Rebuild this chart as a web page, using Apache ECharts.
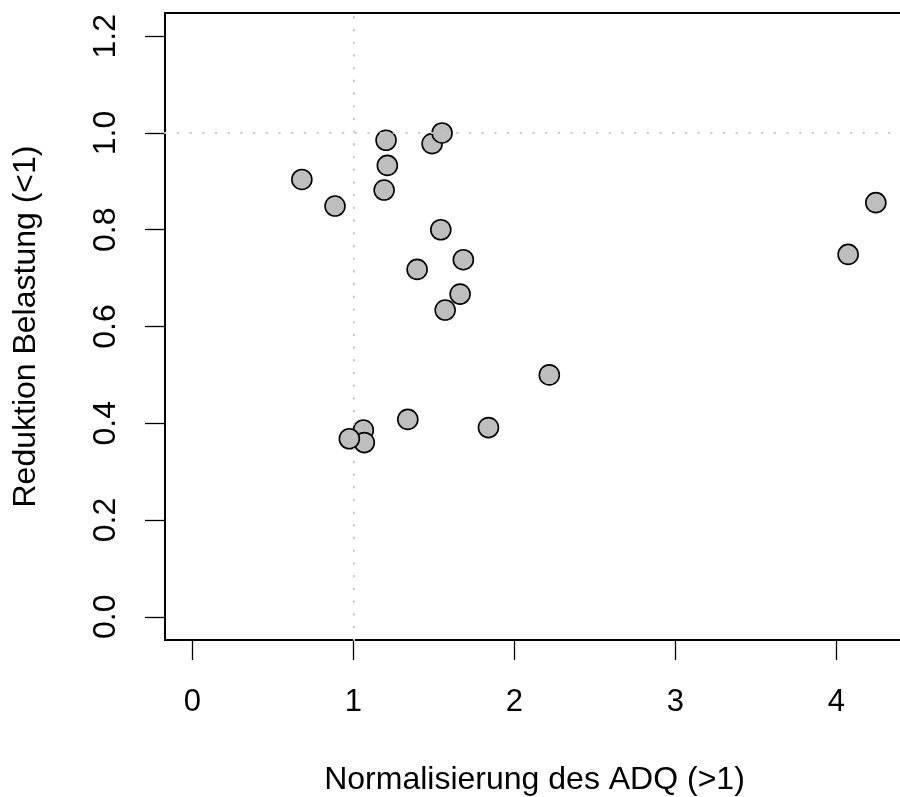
<!DOCTYPE html>
<html>
<head>
<meta charset="utf-8">
<script src="https://cdn.jsdelivr.net/npm/echarts@6/dist/echarts.min.js"></script>
<style>
  html, body { margin: 0; padding: 0; background: #fff; }
  #chart { width: 900px; height: 797px; }
</style>
</head>
<body>
<div id="chart"></div>
<script>
// normalisation of ADQ (x) vs. reduction of load (y)
var adq = [0.68, 0.886, 1.203, 1.211, 1.191, 1.489, 1.551, 1.543, 1.683, 1.396,
           1.663, 1.570, 2.217, 1.338, 1.839, 1.062, 1.068, 0.975, 4.073, 4.245];
var belastung = [0.904, 0.849, 0.985, 0.933, 0.882, 0.978, 1.000, 0.800, 0.738, 0.718,
                 0.667, 0.634, 0.500, 0.408, 0.391, 0.386, 0.360, 0.368, 0.749, 0.856];
var xTicks = [0, 1, 2, 3, 4];
var yTicks = [0, 0.2, 0.4, 0.6, 0.8, 1.0, 1.2];
var refX = 1;
var refY = 1;

var points = adq.map(function (x, i) { return [x, belastung[i]]; });

var myChart = echarts.init(document.getElementById('chart'), null, { renderer: 'canvas' });

var font = 'Liberation Sans, Arial, Helvetica, sans-serif';

var option = {
  animation: false,
  backgroundColor: '#fff',
  grid: {
    left: 165,
    top: 13,
    width: 739,
    height: 627,
    outerBoundsMode: 'none',
    containLabel: false,
    show: true,
    borderColor: '#000',
    borderWidth: 2,
    backgroundColor: '#fff'
  },
  xAxis: {
    type: 'value',
    min: -0.17,
    max: 4.42,
    name: 'Normalisierung des ADQ (>1)',
    nameLocation: 'middle',
    nameGap: 124,
    nameTextStyle: { color: '#000', fontSize: 32, fontFamily: font },
    axisLine: { show: false, onZero: false },
    splitLine: { show: false },
    axisTick: {
      show: true,
      inside: false,
      length: 20,
      customValues: xTicks,
      lineStyle: { color: '#000', width: 1.3 }
    },
    axisLabel: {
      margin: 47,
      color: '#000',
      fontSize: 31,
      fontFamily: font,
      customValues: xTicks,
      formatter: function (v) { return String(Math.round(v)); }
    }
  },
  yAxis: {
    type: 'value',
    min: -0.048,
    max: 1.248,
    name: 'Reduktion Belastung (<1)',
    nameLocation: 'middle',
    nameGap: 123,
    nameTextStyle: { color: '#000', fontSize: 32, fontFamily: font },
    axisLine: { show: false, onZero: false },
    splitLine: { show: false },
    axisTick: {
      show: true,
      inside: false,
      length: 20,
      customValues: yTicks,
      lineStyle: { color: '#000', width: 1.3 }
    },
    axisLabel: {
      rotate: 90,
      margin: 43,
      color: '#000',
      fontSize: 32,
      fontFamily: font,
      customValues: yTicks,
      formatter: function (v) { return v.toFixed(1); }
    }
  },
  series: [
    {
      type: 'scatter',
      data: points,
      symbol: 'circle',
      symbolSize: 20,
      itemStyle: {
        color: '#BEBEBE',
        borderColor: '#000',
        borderWidth: 1.6,
        opacity: 1
      },
      emphasis: { disabled: true },
      markLine: {
        silent: true,
        symbol: ['none', 'none'],
        label: { show: false },
        emphasis: { disabled: true },
        lineStyle: {
          color: '#C8C8C8',
          width: 2.2,
          type: [0.5, 12.2],
          cap: 'round'
        },
        data: [{ xAxis: refX }, { yAxis: refY }]
      }
    }
  ]
};

myChart.setOption(option);
window.addEventListener("resize", function () {
  myChart.resize();
});
</script>
</body>
</html>
